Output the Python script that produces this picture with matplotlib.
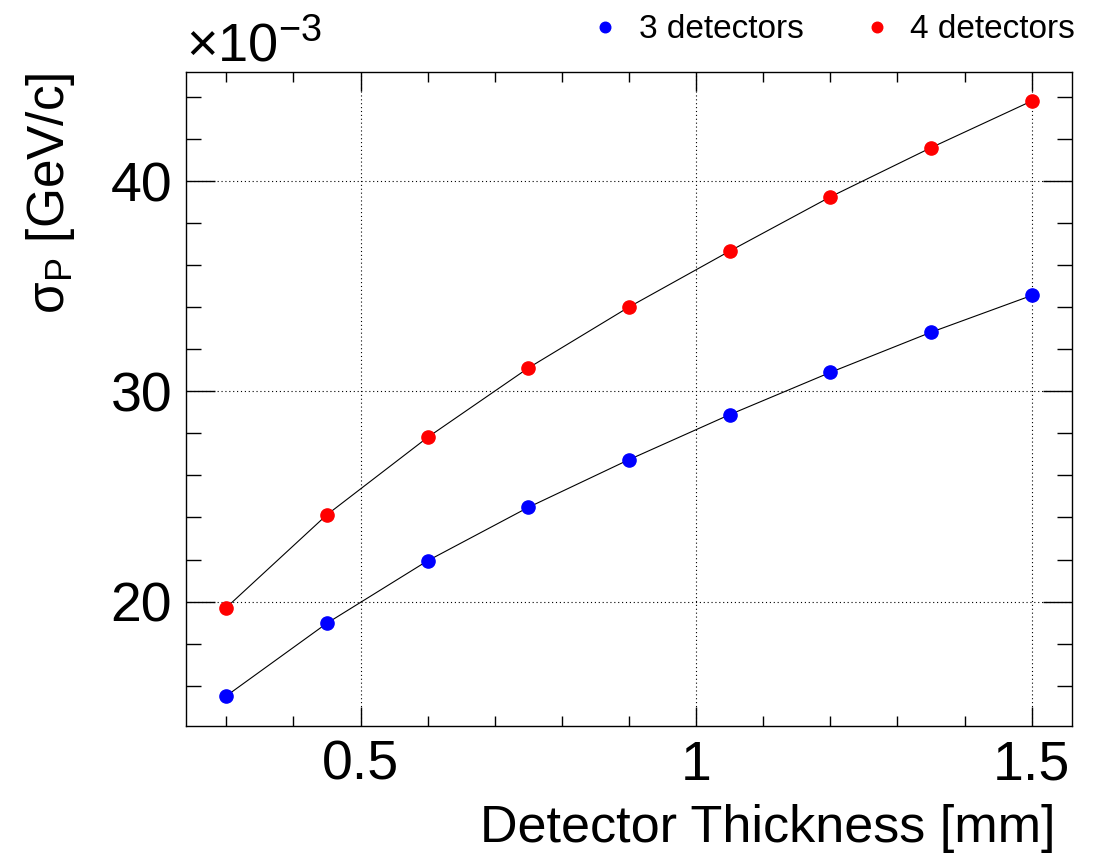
import matplotlib
matplotlib.use("Agg")
from matplotlib import pyplot as plt
from matplotlib.ticker import MultipleLocator

plt.rcParams['font.family'] = ['Liberation Sans', 'DejaVu Sans']
plt.rcParams['mathtext.fontset'] = 'custom'
plt.rcParams['mathtext.rm'] = 'Liberation Sans'
plt.rcParams['mathtext.it'] = 'Liberation Sans'
plt.rcParams['mathtext.default'] = 'regular'

# detector thickness [mm]
thickness = [0.3, 0.45, 0.6, 0.75, 0.9, 1.05, 1.2, 1.35, 1.5]
# sigma_P in units of 1e-3 GeV/c
sigma_3det = [15.51, 18.97, 21.94, 24.48, 26.75, 28.89, 30.90, 32.81, 34.56]
sigma_4det = [19.71, 24.13, 27.81, 31.11, 34.01, 36.67, 39.25, 41.59, 43.81]
labels = ['3 detectors', '4 detectors']


def main():
    fig = plt.figure(figsize=(10.95, 8.58), dpi=100)
    ax = fig.add_axes([186 / 1095, 1 - 726 / 858, 886 / 1095, 654 / 858])

    for ys, col, lab in [(sigma_3det, 'blue', labels[0]), (sigma_4det, 'red', labels[1])]:
        ax.plot(thickness, ys, color='black', lw=0.8, zorder=2)
        ax.plot(thickness, ys, 'o', color=col, ms=9.5, mec=col, label=lab, zorder=3)

    ax.set_xlim(0.24, 1.56)
    ax.set_ylim(14.08, 45.19)
    ax.xaxis.set_major_locator(MultipleLocator(0.5))
    ax.xaxis.set_minor_locator(MultipleLocator(0.1))
    ax.yaxis.set_major_locator(MultipleLocator(10))
    ax.yaxis.set_minor_locator(MultipleLocator(2))
    ax.set_xticks([0.5, 1.0, 1.5], ['0.5', '1', '1.5'])

    ax.grid(which='major', color='black', lw=0.8, linestyle=(0, (1, 2.5)))
    ax.tick_params(which='both', direction='in', top=True, right=True, width=1.0, labelsize=40)
    ax.tick_params(axis='x', which='major', length=14, pad=10)
    ax.tick_params(axis='x', which='minor', length=7.5)
    ax.tick_params(axis='y', which='major', length=21, pad=10)
    ax.tick_params(axis='y', which='minor', length=10.5)
    for s in ax.spines.values():
        s.set_linewidth(1.0)

    ax.set_xlabel('Detector Thickness [mm]', fontsize=37.5, loc='right')
    ax.xaxis.set_label_coords((1055 - 186) / 886, -0.12)
    ax.set_ylabel(r'$\sigma_{P}$ [GeV/c]', fontsize=37, loc='top')
    ax.yaxis.set_label_coords(-0.123, 1.0)

    ax.text(0.0, 1.0, r'$\times10^{-3}$', transform=ax.transAxes, fontsize=39,
            ha='left', va='bottom')

    fig.legend(loc='center right', bbox_to_anchor=(1075 / 1095, 1 - 30 / 858), ncol=2,
               frameon=False, fontsize=24, handlelength=1.0, handletextpad=0.5,
               columnspacing=1.7, borderaxespad=0, borderpad=0, markerscale=0.8)

    fig.savefig('out.png', dpi=100)


main()
